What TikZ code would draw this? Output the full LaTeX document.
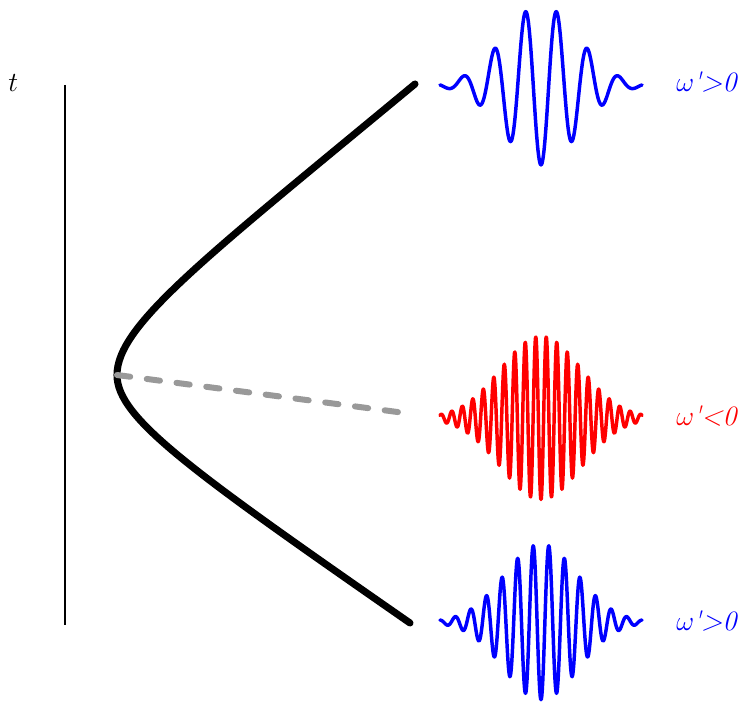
\documentclass[tikz,border=0pt]{standalone}
\usepackage{fontspec}
\usepackage{amsmath}
\usepackage{tikz}
\usetikzlibrary{positioning,calc}

\begin{document}
\begin{tikzpicture}[x=0.75pt, y=-0.75pt,
    branch/.style={line width=5.3pt, line cap=round, line join=round},
    split/.style={line width=4.5pt, black!40, line cap=round, dash pattern=on 10pt off 12.5pt},
    wave/.style={line width=2.6pt, line join=round, line cap=round},
    lbl/.style={anchor=base west, inner sep=0pt, font=\fontsize{21}{25}\selectfont\itshape}]
    \useasboundingbox (0,0) rectangle (743,702);

    % Time axis
    \coordinate (axtop) at (65,85);
    \coordinate (axbot) at (65,625);
    \draw[line width=0.9pt] (axtop) -- (axbot);
    \node[lbl] (tlab) at (8,92) {$t$};

    % Hyperbola of the two branches
    \coordinate (vertex) at (117,375);
    \coordinate (upend) at (415,84);
    \coordinate (lowend) at (410,623);
    \draw[branch] (upend) .. controls (205,258) and (117,325) .. (vertex)
        .. controls (117,418) and (190,470) .. (lowend);

    % Dashed branch
    \coordinate (midend) at (405,413);
    \draw[split] (vertex) -- (midend);

    % Wave packets
    \coordinate (pkTop) at (541,85);
    \coordinate (pkMid) at (541,418);
    \coordinate (pkBot) at (541,622);
    \draw[wave, blue, shift={(pkTop)}] plot[domain=-101:101, samples=300]
        (\x, {80*cos(\x/31*360)*exp(-0.5*(\x/37)^2)});
    \draw[wave, red, shift={(pkMid)}] plot[domain=-101:101, samples=500]
        (\x, {82*cos(\x/10.5*360)*exp(-0.5*(\x/40)^2)});
    \draw[wave, blue, shift={(pkBot)}] plot[domain=-101:101, samples=400]
        (\x, {78*cos(\x/15.6*360)*exp(-0.5*(\x/37)^2)});

    % Labels
    \node[lbl, blue] (labTop) at (676,92) {$\omega$\kern-1pt\textquotesingle>0};
    \node[lbl, red] (labMid) at (676,426) {$\omega$\kern-1pt\textquotesingle<0};
    \node[lbl, blue] (labBot) at (676,630) {$\omega$\kern-1pt\textquotesingle>0};
\end{tikzpicture}
\end{document}
